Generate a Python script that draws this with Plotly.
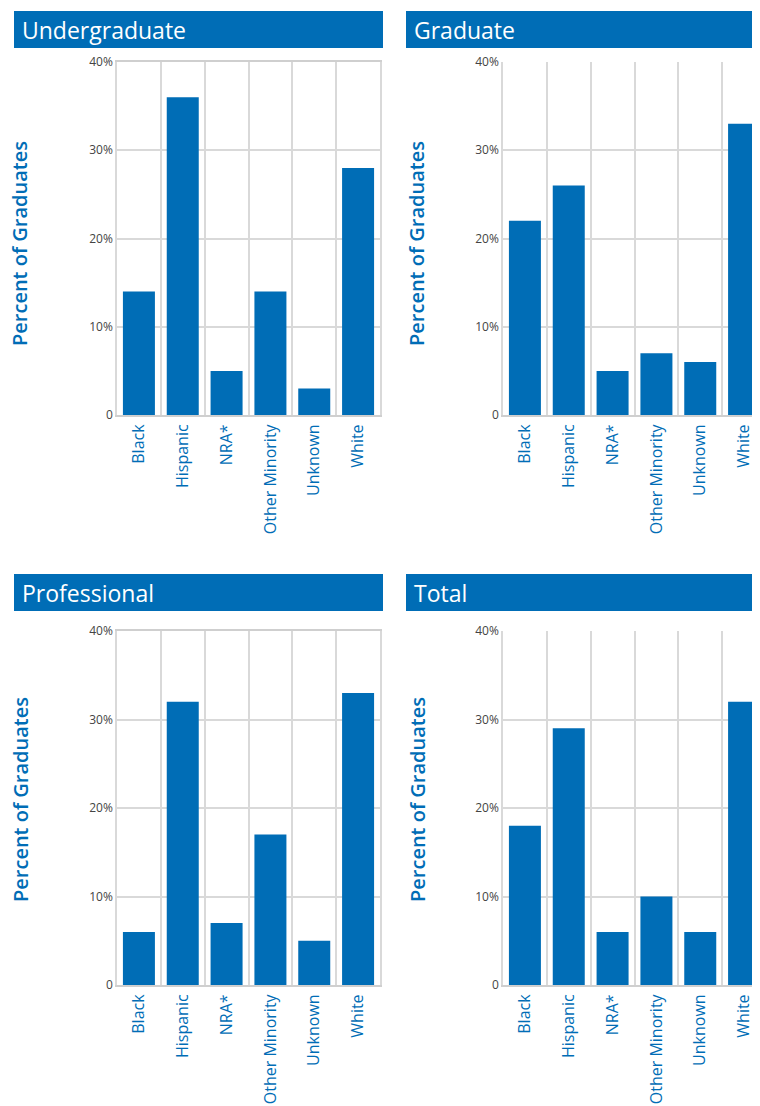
import plotly.graph_objects as go

# -------------------------------
# Data
# -------------------------------
categories = ["Black", "Hispanic", "NRA*", "Other Minority", "Unknown", "White"]

undergraduate = [14, 36, 5, 14, 3, 28]
graduate = [22, 26, 5, 7, 6, 33]
professional = [6, 32, 7, 17, 5, 33]
total = [18, 29, 6, 10, 6, 32]

panel_titles = ["Undergraduate", "Graduate", "Professional", "Total"]
y_tickvals = [0, 10, 20, 30, 40]
y_ticktext = ["0", "10%", "20%", "30%", "40%"]
y_title = "Percent of Graduates"

# -------------------------------
# Layout helpers (page pixel -> paper); page body has an 8px margin
# -------------------------------
OFF = 8
W, H = 760 - OFF, 1106 - OFF
BLUE = "#006db6"
GRID = "#d9d9d9"


def px(x):
    return (x - OFF) / W


def py(y):
    return 1 - (y - OFF) / H


# plot areas in page pixels: (left, right, top, bottom)
areas = [
    (117, 380, 62, 415),
    (503, 760, 62, 415),
    (117, 380, 631, 985),
    (503, 760, 631, 985),
]
# title bars: (left, right, top, bottom)
bars = [
    (14, 383, 11, 48),
    (406, 760, 11, 48),
    (14, 383, 574, 611),
    (406, 760, 574, 611),
]
ytitle_pos = [(20, 244), (417, 244), (20, 800), (417, 800)]

series = [undergraduate, graduate, professional, total]

fig = go.Figure()

shapes = []
annotations = []
layout_axes = {}

for i, (vals, area, bar, title) in enumerate(zip(series, areas, bars, panel_titles)):
    n = i + 1
    xa = "x" if n == 1 else f"x{n}"
    ya = "y" if n == 1 else f"y{n}"

    fig.add_trace(go.Bar(
        x=categories,
        y=vals,
        marker=dict(color=BLUE, line=dict(width=0)),
        xaxis=xa,
        yaxis=ya,
        showlegend=False,
        hoverinfo="x+y",
    ))

    left, right, top, bottom = area
    cat_w = (380 - 117) / 6
    x_hi = -0.5 + (right - left) / cat_w
    clipped = right >= 760

    layout_axes["xaxis" if n == 1 else f"xaxis{n}"] = dict(
        domain=[px(left), min(px(right), 1.0)],
        anchor=ya,
        type="category",
        range=[-0.5, x_hi],
        tickson="boundaries",
        showgrid=True,
        gridcolor=GRID,
        gridwidth=1.5,
        showline=True,
        linecolor="#cfcfcf",
        linewidth=2,
        mirror=not clipped,
        ticks="",
        tickangle=-90,
        ticklabelstandoff=1,
        tickfont=dict(family="Open Sans", size=16, color=BLUE),
        automargin=False,
        fixedrange=True,
    )
    layout_axes["yaxis" if n == 1 else f"yaxis{n}"] = dict(
        domain=[py(bottom), py(top)],
        anchor=xa,
        range=[0, 40],
        tickvals=y_tickvals,
        ticktext=y_ticktext,
        showgrid=True,
        gridcolor=GRID,
        gridwidth=1.5,
        showline=True,
        linecolor=GRID,
        linewidth=1.5,
        mirror=True,
        zeroline=False,
        ticks="",
        tickfont=dict(family="Open Sans", size=12, color="#444444"),
        automargin=False,
        fixedrange=True,
    )

    bl, br, bt, bb = bar
    shapes.append(dict(
        type="rect", xref="paper", yref="paper",
        x0=px(bl), x1=min(px(br), 1.0), y0=py(bb), y1=py(bt),
        fillcolor=BLUE, line=dict(width=0), layer="below",
    ))
    annotations.append(dict(
        xref="paper", yref="paper",
        x=px(bl + 6), y=py((bt + bb) / 2),
        xanchor="left", yanchor="middle",
        text=title, showarrow=False,
        font=dict(family="Open Sans", size=23, color="white", weight=500),
    ))
    tx, ty = ytitle_pos[i]
    annotations.append(dict(
        xref="paper", yref="paper",
        x=px(tx), y=py(ty),
        xanchor="center", yanchor="middle",
        text=y_title, textangle=-90, showarrow=False,
        font=dict(family="Open Sans", size=20, color=BLUE, weight=600),
    ))

fig.update_layout(
    width=W,
    height=H,
    margin=dict(l=0, r=0, t=0, b=0),
    paper_bgcolor="white",
    plot_bgcolor="white",
    bargap=0.27,
    shapes=shapes,
    annotations=annotations,
    **layout_axes,
)

fig.write_html("out.html")
